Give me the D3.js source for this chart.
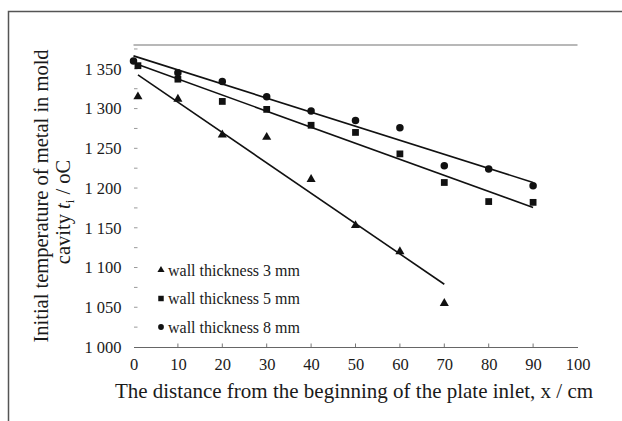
<!DOCTYPE html>
<html>
<head>
<meta charset="utf-8">
<script src="https://cdn.jsdelivr.net/npm/d3@7"></script>
<style>
  body { margin: 0; background: #fff; }
  svg { display: block; }
  text { font-family: "Liberation Serif", "Times New Roman", serif; fill: #1a1a1a; }
</style>
</head>
<body>
<svg id="chart" width="622" height="421"></svg>
<script>
// distances (cm) and measured temperatures (oC)
var x3 = [1, 10, 20, 30, 40, 50, 60, 70];
var t3 = [1315, 1312, 1267, 1264, 1211, 1153, 1120, 1055];

var x5 = [1, 10, 20, 30, 40, 50, 60, 70, 80, 90];
var t5 = [1354, 1337, 1309, 1299, 1279, 1270, 1243, 1207, 1183, 1182];

var x8 = [0, 10, 20, 30, 40, 50, 60, 70, 80, 90];
var t8 = [1360, 1345, 1334, 1315, 1297, 1285, 1276, 1228, 1224, 1203];

var seriesNames = ["wall thickness 3 mm", "wall thickness 5 mm", "wall thickness 8 mm"];
var xTickValues = [0, 10, 20, 30, 40, 50, 60, 70, 80, 90, 100];
var yTickValues = [1000, 1050, 1100, 1150, 1200, 1250, 1300, 1350];
var yMinorValues = [1025, 1075, 1125, 1175, 1225, 1275, 1325, 1375];

(function() {
    var svg = d3.select("#chart");

    var pLeft = 133.5, pRight = 577.5, pTop = 45, pBottom = 347;

    var x = d3.scaleLinear().domain([0, 100]).range([pLeft, pRight]);
    var y = d3.scaleLinear().domain([1000, 1380]).range([pBottom, pTop]);

    var loc = d3.formatLocale({decimal: ".", thousands: " ", grouping: [3], currency: ["", ""]});
    var yFmt = loc.format(",d");

    // outer frame (picture is cropped on the right/bottom)
    svg.append("path")
        .attr("d", "M8.5,421 V11.5 H622")
        .attr("fill", "none")
        .attr("stroke", "#555")
        .attr("stroke-width", 1.5);

    // top border of plot area
    svg.append("line")
        .attr("x1", pLeft).attr("x2", pRight)
        .attr("y1", y(1380)).attr("y2", y(1380))
        .attr("stroke", "#a0a0a0").attr("stroke-width", 1.5);

    // x axis
    var xAxis = d3.axisBottom(x).tickValues(xTickValues).tickSize(0).tickPadding(11);
    var gx = svg.append("g").attr("transform", "translate(0," + pBottom + ")").call(xAxis);
    gx.select(".domain").attr("stroke", "#666").attr("stroke-width", 1.2);
    gx.selectAll("text").style("font-size", "16.5px").attr("fill", "#1a1a1a");
    gx.selectAll(".tickUp")
        .data(xTickValues.slice(1, -1))
        .enter().append("line")
        .attr("x1", function(d) { return x(d); })
        .attr("x2", function(d) { return x(d); })
        .attr("y1", 0).attr("y2", -3.5)
        .attr("stroke", "#777");

    // y axis: no line, light ticks only
    var yAxis = d3.axisLeft(y).tickValues(yTickValues).tickFormat(yFmt).tickSize(0).tickPadding(12);
    var gy = svg.append("g").attr("transform", "translate(" + pLeft + ",0)").call(yAxis);
    gy.select(".domain").remove();
    gy.selectAll("text").style("font-size", "16.5px").attr("fill", "#1a1a1a");
    gy.selectAll(".minor")
        .data(yMinorValues.concat(yTickValues.slice(1)))
        .enter().append("line")
        .attr("x1", 0.5).attr("x2", 4)
        .attr("y1", function(d) { return y(d); })
        .attr("y2", function(d) { return y(d); })
        .attr("stroke", "#999").attr("stroke-width", 1);

    // axis titles
    svg.append("text")
        .attr("x", 354).attr("y", 398)
        .attr("text-anchor", "middle")
        .style("font-size", "21px")
        .text("The distance from the beginning of the plate inlet, x / cm");

    var yt = svg.append("text")
        .attr("transform", "translate(48,196) rotate(-90)")
        .attr("text-anchor", "middle")
        .style("font-size", "20.5px");
    yt.append("tspan").attr("x", 0).attr("y", 0).text("Initial temperature of metal in mold");
    var l2 = yt.append("tspan").attr("x", -16).attr("y", 22);
    l2.text("cavity ");
    yt.append("tspan").style("font-style", "italic").text("t");
    yt.append("tspan").attr("dy", 4).style("font-size", "13px").text("i");
    yt.append("tspan").attr("dy", -4).text(" / oC");

    // linear trend lines fitted over each series' own range
    function fit(xs, ys) {
        var mx = d3.mean(xs), my = d3.mean(ys);
        var sxy = d3.sum(xs, function(v, i) { return (v - mx) * (ys[i] - my); });
        var sxx = d3.sum(xs, function(v) { return (v - mx) * (v - mx); });
        var b = sxy / sxx;
        var a = my - b * mx;
        var x0 = d3.min(xs), x1 = d3.max(xs);
        return [[x0, a + b * x0], [x1, a + b * x1]];
    }

    var series = [
        {xs: x3, ys: t3, sym: d3.symbolTriangle, size: 36, lsize: 22},
        {xs: x5, ys: t5, sym: d3.symbolSquare, size: 46, lsize: 30},
        {xs: x8, ys: t8, sym: d3.symbolCircle, size: 44, lsize: 26}
    ];

    var line = d3.line().x(function(d) { return x(d[0]); }).y(function(d) { return y(d[1]); });

    series.forEach(function(s) {
        svg.append("path")
            .attr("d", line(fit(s.xs, s.ys)))
            .attr("fill", "none")
            .attr("stroke", "#111")
            .attr("stroke-width", 1.6);
    });

    series.forEach(function(s) {
        svg.append("g").selectAll("path")
            .data(s.xs)
            .enter().append("path")
            .attr("transform", function(d, i) { return "translate(" + x(d) + "," + y(s.ys[i]) + ")"; })
            .attr("d", d3.symbol().type(s.sym).size(s.size))
            .attr("fill", "#111");
    });

    // legend
    var lg = svg.append("g").attr("transform", "translate(161,270)");
    series.forEach(function(s, i) {
        var row = lg.append("g").attr("transform", "translate(0," + (i * 28.5) + ")");
        row.append("path")
            .attr("d", d3.symbol().type(s.sym).size(s.lsize))
            .attr("fill", "#111");
        row.append("text")
            .attr("x", 7).attr("y", 5.5)
            .style("font-size", "16px")
            .text(seriesNames[i]);
    });
})();
</script>
</body>
</html>
